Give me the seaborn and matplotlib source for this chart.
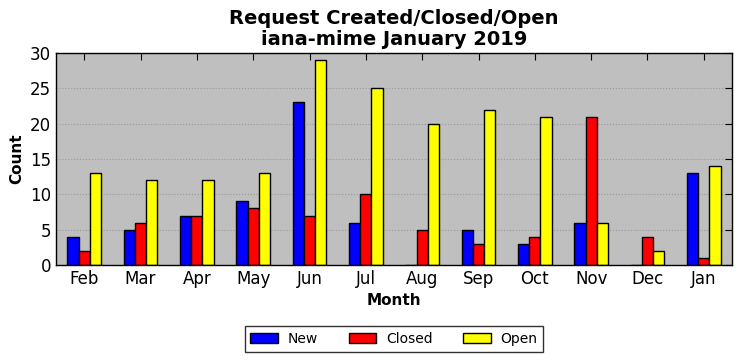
import matplotlib
matplotlib.use("Agg")
import matplotlib.pyplot as plt
import seaborn as sns
import pandas as pd

months = ["Feb", "Mar", "Apr", "May", "Jun", "Jul", "Aug", "Sep", "Oct", "Nov", "Dec", "Jan"]
new = [4, 5, 7, 9, 23, 6, 0, 5, 3, 6, 0, 13]
closed = [2, 6, 7, 8, 7, 10, 5, 3, 4, 21, 4, 1]
open_ = [13, 12, 12, 13, 29, 25, 20, 22, 21, 6, 2, 14]
series = ["New", "Closed", "Open"]
colors = {"New": "#0000ff", "Closed": "#ff0000", "Open": "#ffff00"}

rows = []
for s, vals in zip(series, [new, closed, open_]):
    for m, v in zip(months, vals):
        rows.append({"Month": m, "Series": s, "Count": v})
df = pd.DataFrame(rows)

sns.set_style("white")
plt.rcParams['font.family'] = ['DejaVu Sans']
plt.rcParams['text.color'] = 'black'
plt.rcParams['axes.labelcolor'] = 'black'
plt.rcParams['xtick.color'] = 'black'
plt.rcParams['ytick.color'] = 'black'

fig = plt.figure(figsize=(7.42, 3.61), dpi=100)
ax = fig.add_axes([56/742, 1-265/361, (732-56)/742, (265-53)/361])
sns.barplot(data=df, x="Month", y="Count", hue="Series", order=months,
            hue_order=series, palette=colors, width=0.6, edgecolor="black",
            linewidth=1, saturation=1, ax=ax, legend=True)
ax.set_facecolor("#bfbfbf")
ax.set_ylim(0, 30)
ax.set_xlim(-0.5, 11.5)
ax.yaxis.grid(True, linestyle=":", color="#999999", linewidth=0.8)
ax.set_axisbelow(True)
for sp in ax.spines.values():
    sp.set_visible(True)
    sp.set_color("black")
    sp.set_linewidth(1)
ax.tick_params(direction="in", top=True, right=True, length=5, labelsize=12, color="black")
ax.set_xlabel("Month", fontsize=11, fontweight="bold", color="black")
ax.set_ylabel("Count", fontsize=11, fontweight="bold", color="black")
ax.set_title("Request Created/Closed/Open\niana-mime January 2019", fontsize=14,
             fontweight="bold", linespacing=1.1, color="black")
ax.legend(loc="upper center", bbox_to_anchor=(0.5, -0.29), ncol=3, fontsize=10,
          frameon=True, fancybox=False, edgecolor="black", title=None,
          handlelength=2.0, columnspacing=2.2, handletextpad=0.7, borderaxespad=0)
leg = ax.get_legend()
leg.get_frame().set_linewidth(1)
for t in leg.get_texts():
    t.set_color("black")
fig.savefig("out.png", dpi=100, facecolor="white")
